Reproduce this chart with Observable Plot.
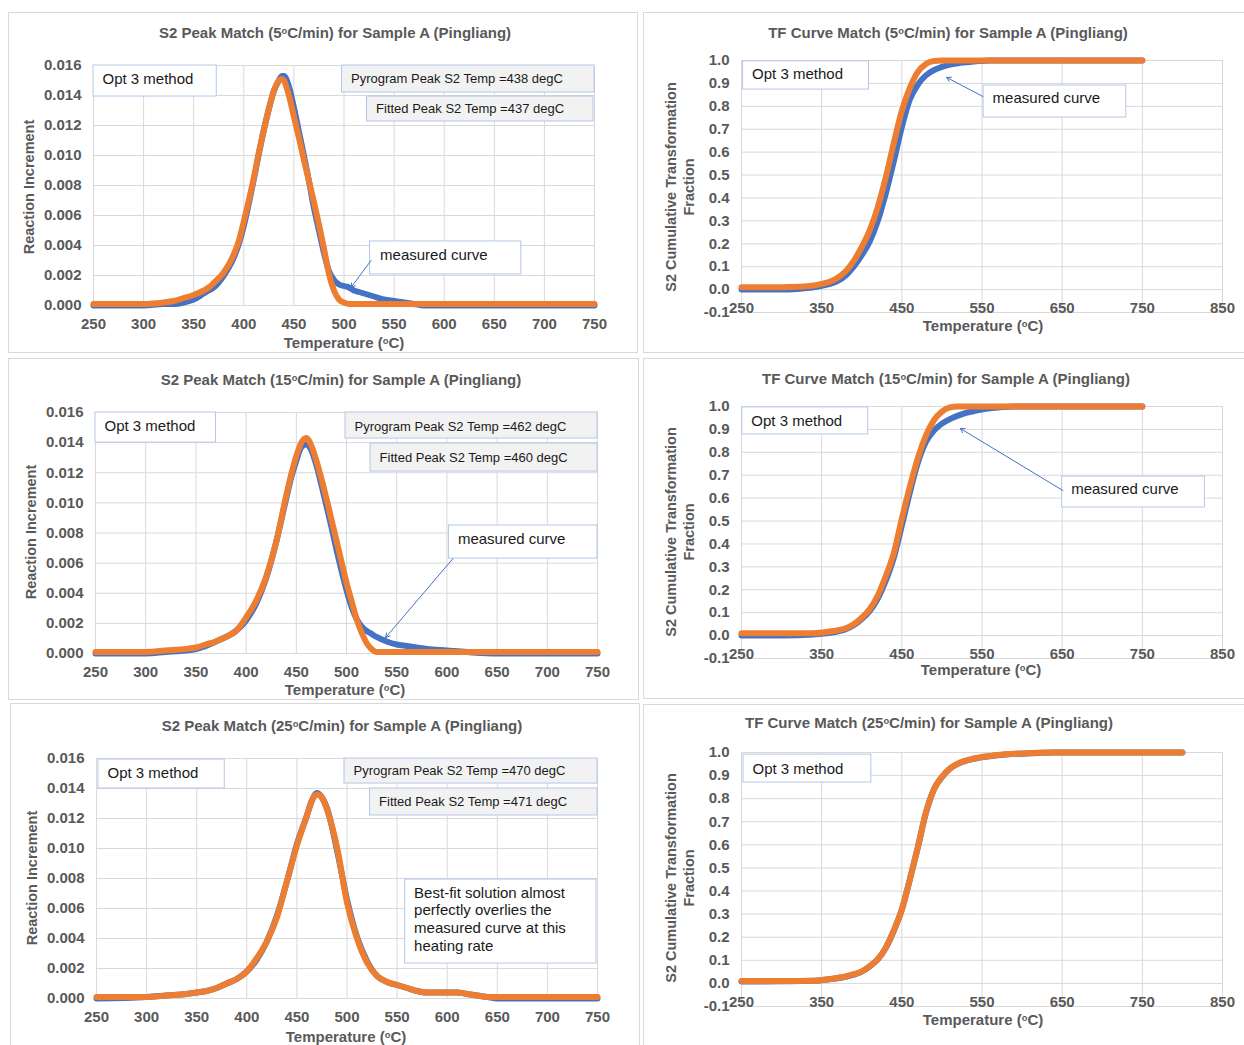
<!DOCTYPE html>
<html><head><meta charset="utf-8">
<script src="https://cdn.jsdelivr.net/npm/d3@7"></script>
<script src="https://cdn.jsdelivr.net/npm/@observablehq/plot@0.6"></script>
<style>
body{margin:0;background:#fff;}
#page{position:relative;width:1244px;height:1045px;overflow:hidden;background:#fff;font-family:"Liberation Sans",Arial,sans-serif;}
.panel{position:absolute;border:1px solid #d9d9d9;box-sizing:border-box;}
.lbl{position:absolute;transform:translate(-50%,-50%);white-space:nowrap;font-weight:bold;color:#595959;line-height:1.2;}
.title{font-size:15px;}
.xt{font-size:15px;}
.yt{font-size:14.5px;text-align:center;line-height:18px;transform:translate(-50%,-50%) rotate(-90deg);}
.sup{font-size:0.62em;vertical-align:0.45em;}
</style></head>
<body><div id="page"></div>
<script>
const BLUE = "#4472c4", ORANGE = "#ed7d31";

// Tick labels
const peakTicksX = [250,300,350,400,450,500,550,600,650,700,750];
const peakTicksY = [0,0.002,0.004,0.006,0.008,0.010,0.012,0.014,0.016];
const tfTicksX = [250,350,450,550,650,750,850];
const tfTicksY = [-0.1,0,0.1,0.2,0.3,0.4,0.5,0.6,0.7,0.8,0.9,1.0];

// S2 peak, 5 C/min
const peak5_T = [250,280,300,320,330,340,350,360,365,370,380,390,395,400,405,410,415,420,425,430,435,438,440,445,450,455,460,465,470,475,480,485,490,495,500,505,510,515,520,530,540,550,560,570,580,600,650,700,750];
const peak5_measured = [0,0,0,0.0001,0.0001,0.0002,0.0004,0.0008,0.0010,0.0012,0.0020,0.0032,0.0041,0.0053,0.0068,0.0084,0.0101,0.0117,0.0131,0.0143,0.0150,0.0153,0.0153,0.0146,0.0132,0.0116,0.0100,0.0083,0.0065,0.0050,0.0035,0.0023,0.0017,0.0014,0.0013,0.0012,0.0010,0.0009,0.0008,0.0006,0.0004,0.0003,0.0002,0.0001,0,0,0,0,0];
const peak5_fitted = [0.0001,0.0001,0.0001,0.0002,0.0003,0.0005,0.0007,0.0010,0.0012,0.0015,0.0022,0.0034,0.0043,0.0056,0.0070,0.0085,0.0102,0.0117,0.0131,0.0143,0.0150,0.0151,0.0150,0.0140,0.0126,0.0112,0.0097,0.0083,0.0069,0.0054,0.0038,0.0021,0.0010,0.0004,0.0002,0.0001,0.0001,0.0001,0.0001,0.0001,0.0001,0.0001,0.0001,0.0001,0.0001,0.0001,0.0001,0.0001,0.0001];

// TF curve, 5 C/min
const tf5_T = [250,300,320,340,350,360,370,380,390,400,410,420,430,440,450,460,470,480,490,500,510,520,530,540,550,560,600,650,700,750];
const tf5_measured = [0,0,0.003,0.010,0.016,0.025,0.038,0.062,0.100,0.150,0.210,0.300,0.420,0.560,0.710,0.830,0.895,0.935,0.958,0.972,0.982,0.988,0.992,0.996,0.998,1,1,1,1,1];
const tf5_fitted = [0.01,0.01,0.012,0.018,0.025,0.034,0.052,0.080,0.125,0.186,0.260,0.360,0.490,0.640,0.780,0.880,0.950,0.985,0.998,1,1,1,1,1,1,1,1,1,1,1];

// S2 peak, 15 C/min
const peak15_T = [250,300,320,340,350,360,370,380,390,400,410,420,430,440,445,450,455,460,465,470,475,480,485,490,495,500,505,510,515,520,525,530,540,550,560,570,580,600,620,650,700,750];
const peak15_measured = [0,0,0.0001,0.0002,0.0003,0.0005,0.0008,0.0011,0.0015,0.0022,0.0033,0.0050,0.0074,0.0103,0.0117,0.0128,0.0137,0.0139,0.0135,0.0125,0.0112,0.0098,0.0084,0.0069,0.0055,0.0042,0.0031,0.0023,0.0018,0.0015,0.0013,0.0011,0.0008,0.0006,0.0005,0.0004,0.0003,0.0002,0.0001,0,0,0];
const peak15_fitted = [0.0001,0.0001,0.0002,0.0003,0.0004,0.0006,0.0008,0.0011,0.0015,0.0024,0.0035,0.0051,0.0074,0.0105,0.0119,0.0131,0.0140,0.0143,0.0138,0.0128,0.0116,0.0103,0.0089,0.0075,0.0061,0.0047,0.0035,0.0023,0.0014,0.0007,0.0003,0.0001,0.0001,0.0001,0.0001,0.0001,0.0001,0.0001,0.0001,0.0001,0.0001,0.0001];

// TF curve, 15 C/min
const tf15_T = [250,300,340,360,380,390,400,410,420,430,440,450,460,470,480,490,500,510,520,530,540,550,560,570,580,590,600,650,700,750];
const tf15_measured = [0,0,0.005,0.012,0.028,0.045,0.072,0.108,0.162,0.240,0.340,0.480,0.625,0.755,0.845,0.895,0.925,0.945,0.960,0.972,0.980,0.987,0.992,0.996,0.998,1,1,1,1,1];
const tf15_fitted = [0.01,0.01,0.01,0.018,0.032,0.050,0.078,0.116,0.175,0.260,0.360,0.510,0.650,0.775,0.873,0.940,0.978,0.996,1,1,1,1,1,1,1,1,1,1,1,1];

// S2 peak, 25 C/min
const peak25_T = [250,300,320,340,350,360,370,380,390,400,410,420,430,440,450,460,465,470,475,480,490,500,510,520,530,540,550,560,570,580,590,600,610,620,630,640,650,700,750];
const peak25_measured = [0,0.0001,0.0002,0.0003,0.0004,0.0005,0.0007,0.0010,0.0013,0.0018,0.0026,0.0038,0.0055,0.0078,0.0103,0.0122,0.0132,0.0137,0.0134,0.0127,0.0099,0.0066,0.0041,0.0025,0.0015,0.0011,0.0009,0.0007,0.0005,0.0004,0.0004,0.0004,0.0004,0.0003,0.0002,0.0001,0,0,0];
const peak25_fitted = [0.0001,0.0001,0.0002,0.0003,0.0004,0.0005,0.0007,0.0010,0.0013,0.0018,0.0027,0.0038,0.0054,0.0078,0.0102,0.0122,0.0132,0.0136,0.0134,0.0126,0.0101,0.0064,0.0040,0.0024,0.0015,0.0011,0.0009,0.0007,0.0005,0.0004,0.0004,0.0004,0.0004,0.0003,0.0002,0.0001,0.0001,0.0001,0.0001];

// TF curve, 25 C/min
const tf25_T = [250,300,340,360,380,390,400,410,420,430,440,450,460,470,480,490,500,510,520,540,560,580,600,620,640,700,750,800];
const tf25_measured = [0.008,0.009,0.011,0.018,0.029,0.038,0.051,0.074,0.104,0.154,0.228,0.320,0.450,0.590,0.738,0.840,0.893,0.930,0.951,0.973,0.984,0.991,0.995,0.998,1,1,1,1];
const tf25_fitted = [0.01,0.01,0.012,0.019,0.030,0.040,0.052,0.075,0.105,0.155,0.230,0.320,0.450,0.590,0.740,0.840,0.895,0.930,0.952,0.974,0.985,0.992,0.996,0.999,1,1,1,1];

// Annotation texts
const optText = "Opt 3 method";
const measText = "measured curve";
const pyroTemps = [438, 462, 470];
const fitTemps = [437, 460, 471];
const bestFitText = "Best-fit solution almost\nperfectly overlies the\nmeasured curve at this\nheating rate";

const page = document.getElementById("page");

function addDiv(cls, html, x, y) {
  const d = document.createElement("div");
  d.className = cls;
  d.innerHTML = html;
  d.style.left = x + "px";
  d.style.top = y + "px";
  page.appendChild(d);
  return d;
}
function addPanel(l, t, w, h) {
  const d = document.createElement("div");
  d.className = "panel";
  Object.assign(d.style, {left: l + "px", top: t + "px", width: w + "px", height: h + "px"});
  page.appendChild(d);
}

function drawPanel(cfg) {
  const [px0, py0, px1, py1] = cfg.rect;
  const mL = 70, mR = 30, mT = 20, mB = 40;
  const boxes = cfg.boxes || [];
  const texts = cfg.texts || [];
  const arrows = cfg.arrows || [];
  const chart = Plot.plot({
    width: px1 - px0 + mL + mR,
    height: py1 - py0 + mT + mB,
    marginLeft: mL, marginRight: mR, marginTop: mT, marginBottom: mB,
    x: {domain: cfg.xDomain},
    y: {domain: cfg.yDomain},
    style: {background: "transparent", color: "#595959", fontFamily: "'Liberation Sans', Arial, sans-serif", overflow: "visible"},
    marks: [
      Plot.gridX(cfg.xTicks, {stroke: "#d9d9d9", strokeOpacity: 1, strokeWidth: 1}),
      Plot.gridY(cfg.yTicks, {stroke: "#d9d9d9", strokeOpacity: 1, strokeWidth: 1}),
      Plot.axisX(cfg.xTicks, {tickSize: 0, tickPadding: cfg.xPad, fontSize: 15, fontWeight: "bold", label: null, tickFormat: d => String(d)}),
      Plot.axisY(cfg.yTicks, {tickSize: 0, tickPadding: 12, fontSize: 15, fontWeight: "bold", label: null, tickFormat: cfg.yFmt}),
      Plot.line(cfg.meas, {x: cfg.T, y: cfg.meas, stroke: BLUE, strokeWidth: 6, curve: "monotone-x"}),
      Plot.line(cfg.fit, {x: cfg.T, y: cfg.fit, stroke: ORANGE, strokeWidth: 6, curve: "monotone-x"}),
      Plot.rect(boxes, {x1: "x1", x2: "x2", y1: "y1", y2: "y2", fill: "fill", stroke: "#b4c7e7", strokeWidth: 1}),
      Plot.text(texts, {x: "x", y: "y", text: "text", fontSize: d => d.size, textAnchor: "start", dx: 9, fill: "#1a1a1a", lineHeight: 1.18, lineAnchor: "middle"}),
      Plot.arrow(arrows, {x1: "x1", y1: "y1", x2: "x2", y2: "y2", stroke: BLUE, strokeWidth: 1, headLength: 7})
    ]
  });
  chart.style.position = "absolute";
  chart.style.left = (px0 - mL) + "px";
  chart.style.top = (py0 - mT) + "px";
  page.appendChild(chart);
}

const deg = '<span class="sup">o</span>C';
const fmt3 = d => d.toFixed(3);
const fmt1 = d => d.toFixed(1);

// panel frames
addPanel(8, 12, 630, 341);
addPanel(643, 12, 610, 341);
addPanel(8, 358, 631, 342);
addPanel(643, 358, 610, 341);
addPanel(10, 703, 630, 360);
addPanel(643, 704, 610, 360);

// ---- Panel 1: S2 peak 5 C/min
drawPanel({
  rect: [93, 65, 594, 305], xDomain: [250, 750], yDomain: [0, 0.016],
  xTicks: peakTicksX, yTicks: peakTicksY, xPad: 13, yFmt: fmt3,
  T: peak5_T, meas: peak5_measured, fit: peak5_fitted,
  boxes: [
    {x1: 250, x2: 373, y1: 0.016, y2: 0.01393, fill: "white"},
    {x1: 498, x2: 750, y1: 0.016, y2: 0.0142, fill: "#f2f2f2"},
    {x1: 523, x2: 749, y1: 0.01393, y2: 0.01227, fill: "#f2f2f2"},
    {x1: 526, x2: 677, y1: 0.00427, y2: 0.00207, fill: "white"}
  ],
  texts: [
    {x: 250, y: 0.01513, text: optText, size: 15},
    {x: 498, y: 0.01513, text: `Pyrogram Peak S2 Temp =${pyroTemps[0]} degC`, size: 13},
    {x: 523, y: 0.01313, text: `Fitted Peak S2 Temp =${fitTemps[0]} degC`, size: 13},
    {x: 527, y: 0.0034, text: measText, size: 15}
  ],
  arrows: [{x1: 527, y1: 0.0030, x2: 507, y2: 0.0012}]
});
addDiv("lbl title", `S2 Peak Match (5${deg}/min) for Sample A (Pingliang)`, 335, 33);
addDiv("lbl xt", `Temperature (${deg})`, 344, 343);
addDiv("lbl yt", "Reaction Increment", 29, 187);

// ---- Panel 2: TF 5 C/min
drawPanel({
  rect: [741, 60, 1222, 312], xDomain: [250, 850], yDomain: [-0.1, 1.0],
  xTicks: tfTicksX, yTicks: tfTicksY, xPad: -10, yFmt: fmt1,
  T: tf5_T, meas: tf5_measured, fit: tf5_fitted,
  boxes: [
    {x1: 252, x2: 409, y1: 0.996, y2: 0.873, fill: "white"},
    {x1: 552, x2: 730, y1: 0.891, y2: 0.751, fill: "white"}
  ],
  texts: [
    {x: 252, y: 0.943, text: optText, size: 15},
    {x: 552, y: 0.838, text: measText, size: 15}
  ],
  arrows: [{x1: 551, y1: 0.843, x2: 506, y2: 0.926}]
});
addDiv("lbl title", `TF Curve Match (5${deg}/min) for Sample A (Pingliang)`, 948, 33);
addDiv("lbl xt", `Temperature (${deg})`, 983, 326);
addDiv("lbl yt", "S2 Cumulative Transformation<br>Fraction", 680, 187);

// ---- Panel 3: S2 peak 15 C/min
drawPanel({
  rect: [95, 412, 597, 653], xDomain: [250, 750], yDomain: [0, 0.016],
  xTicks: peakTicksX, yTicks: peakTicksY, xPad: 13, yFmt: fmt3,
  T: peak15_T, meas: peak15_measured, fit: peak15_fitted,
  boxes: [
    {x1: 250, x2: 370, y1: 0.016, y2: 0.0140, fill: "white"},
    {x1: 499, x2: 750, y1: 0.016, y2: 0.01427, fill: "#f2f2f2"},
    {x1: 524, x2: 750, y1: 0.01394, y2: 0.01208, fill: "#f2f2f2"},
    {x1: 602, x2: 750, y1: 0.0085, y2: 0.0063, fill: "white"}
  ],
  texts: [
    {x: 250, y: 0.01514, text: optText, size: 15},
    {x: 499, y: 0.01509, text: `Pyrogram Peak S2 Temp =${pyroTemps[1]} degC`, size: 13},
    {x: 524, y: 0.01303, text: `Fitted Peak S2 Temp =${fitTemps[1]} degC`, size: 13},
    {x: 602, y: 0.00762, text: measText, size: 15}
  ],
  arrows: [{x1: 606, y1: 0.0063, x2: 539, y2: 0.00106}]
});
addDiv("lbl title", `S2 Peak Match (15${deg}/min) for Sample A (Pingliang)`, 341, 380);
addDiv("lbl xt", `Temperature (${deg})`, 345, 690);
addDiv("lbl yt", "Reaction Increment", 31, 532);

// ---- Panel 4: TF 15 C/min
drawPanel({
  rect: [741, 406, 1222, 658], xDomain: [250, 850], yDomain: [-0.1, 1.0],
  xTicks: tfTicksX, yTicks: tfTicksY, xPad: -10, yFmt: fmt1,
  T: tf15_T, meas: tf15_measured, fit: tf15_fitted,
  boxes: [
    {x1: 251, x2: 408, y1: 0.996, y2: 0.878, fill: "white"},
    {x1: 650, x2: 828, y1: 0.694, y2: 0.559, fill: "white"}
  ],
  texts: [
    {x: 251, y: 0.9375, text: optText, size: 15},
    {x: 650, y: 0.641, text: measText, size: 15}
  ],
  arrows: [{x1: 651, y1: 0.633, x2: 523, y2: 0.904}]
});
addDiv("lbl title", `TF Curve Match (15${deg}/min) for Sample A (Pingliang)`, 946, 379);
addDiv("lbl xt", `Temperature (${deg})`, 981, 670);
addDiv("lbl yt", "S2 Cumulative Transformation<br>Fraction", 680, 532);

// ---- Panel 5: S2 peak 25 C/min
drawPanel({
  rect: [96, 758, 597, 998], xDomain: [250, 750], yDomain: [0, 0.016],
  xTicks: peakTicksX, yTicks: peakTicksY, xPad: 13, yFmt: fmt3,
  T: peak25_T, meas: peak25_measured, fit: peak25_fitted,
  boxes: [
    {x1: 252, x2: 378, y1: 0.01593, y2: 0.0140, fill: "white"},
    {x1: 497.5, x2: 750, y1: 0.016, y2: 0.01433, fill: "#f2f2f2"},
    {x1: 523, x2: 750, y1: 0.0140, y2: 0.0122, fill: "#f2f2f2"},
    {x1: 558, x2: 749, y1: 0.00793, y2: 0.00233, fill: "white"}
  ],
  texts: [
    {x: 252, y: 0.01509, text: optText, size: 15},
    {x: 497.5, y: 0.0152, text: `Pyrogram Peak S2 Temp =${pyroTemps[2]} degC`, size: 13},
    {x: 523, y: 0.01313, text: `Fitted Peak S2 Temp =${fitTemps[2]} degC`, size: 13},
    {x: 558, y: 0.00533, text: bestFitText, size: 15}
  ]
});
addDiv("lbl title", `S2 Peak Match (25${deg}/min) for Sample A (Pingliang)`, 342, 726);
addDiv("lbl xt", `Temperature (${deg})`, 346, 1037);
addDiv("lbl yt", "Reaction Increment", 32, 878);

// ---- Panel 6: TF 25 C/min
drawPanel({
  rect: [741, 752, 1222, 1006], xDomain: [250, 850], yDomain: [-0.1, 1.0],
  xTicks: tfTicksX, yTicks: tfTicksY, xPad: -10, yFmt: fmt1,
  T: tf25_T, meas: tf25_measured, fit: tf25_fitted,
  boxes: [
    {x1: 252.5, x2: 412, y1: 0.991, y2: 0.870, fill: "white"}
  ],
  texts: [
    {x: 252.5, y: 0.932, text: optText, size: 15}
  ]
});
addDiv("lbl title", `TF Curve Match (25${deg}/min) for Sample A (Pingliang)`, 929, 723);
addDiv("lbl xt", `Temperature (${deg})`, 983, 1020);
addDiv("lbl yt", "S2 Cumulative Transformation<br>Fraction", 680, 878);
</script>
</body></html>
